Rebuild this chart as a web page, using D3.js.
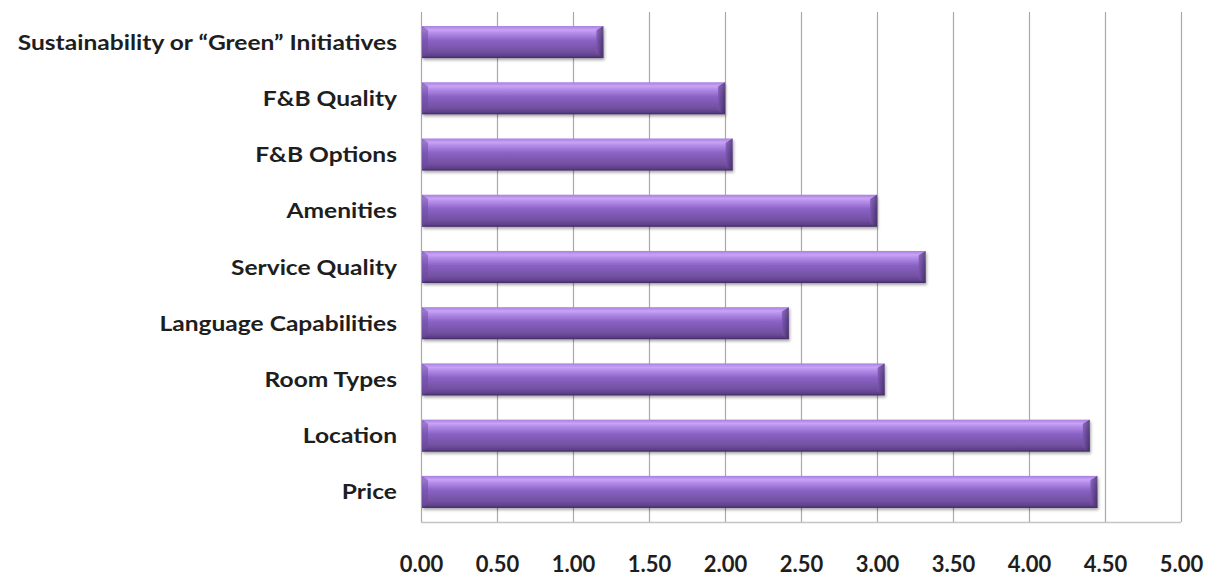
<!DOCTYPE html>
<html>
<head>
<meta charset="utf-8">
<script src="https://cdn.jsdelivr.net/npm/d3@7"></script>
<style>
  html, body { margin: 0; padding: 0; background: #ffffff; }
  svg { display: block; }
  .lbl { font-family: Lato, "Open Sans", sans-serif; font-weight: 700; fill: #1e1e1e; }
</style>
</head>
<body>
<svg id="chart" width="1208" height="578"></svg>
<script>
// Importance ratings by attribute (top to bottom as shown)
const categories = [
  "Sustainability or \u201CGreen\u201D Initiatives",
  "F&B Quality",
  "F&B Options",
  "Amenities",
  "Service Quality",
  "Language Capabilities",
  "Room Types",
  "Location",
  "Price"
];
const values = [1.20, 2.00, 2.05, 3.00, 3.32, 2.42, 3.05, 4.40, 4.45];
const tickValues = [0, 0.5, 1, 1.5, 2, 2.5, 3, 3.5, 4, 4.5, 5];

const svg = d3.select("#chart");
const margin = { top: 12, right: 27, bottom: 56, left: 421 };
const W = 1208, H = 578;
const innerW = W - margin.left - margin.right;
const innerH = H - margin.top - margin.bottom;

const x = d3.scaleLinear().domain([0, 5]).range([0, innerW]);
const y = d3.scaleBand().domain(categories).range([0, innerH]).paddingInner(0.43).paddingOuter(0.25);

// Gradients for the bevelled bars
const defs = svg.append("defs");
const g1 = defs.append("linearGradient").attr("id", "barFill")
  .attr("x1", 0).attr("y1", 0).attr("x2", 0).attr("y2", 1);
[
  [0, "#a77fe0"], [0.12, "#c9a3f6"], [0.22, "#b38be8"], [0.45, "#8a62c6"],
  [0.8, "#72509f"], [0.93, "#5e3f8a"], [1, "#3f2a5e"]
].forEach(([o, c]) => g1.append("stop").attr("offset", o).attr("stop-color", c));
const g2 = defs.append("linearGradient").attr("id", "capFill")
  .attr("x1", 0).attr("y1", 0).attr("x2", 1).attr("y2", 0);
[[0, "#7a56b0"], [1, "#3e2a5c"]].forEach(([o, c]) => g2.append("stop").attr("offset", o).attr("stop-color", c));
const blur = defs.append("filter").attr("id", "soft").attr("x", "-5%").attr("y", "-20%").attr("width", "110%").attr("height", "150%");
blur.append("feGaussianBlur").attr("in", "SourceAlpha").attr("stdDeviation", 1.5);
blur.append("feOffset").attr("dx", 1).attr("dy", 2).attr("result", "off");
blur.append("feComponentTransfer").append("feFuncA").attr("type", "linear").attr("slope", 0.35);
const mrg = blur.append("feMerge");
mrg.append("feMergeNode");
mrg.append("feMergeNode").attr("in", "SourceGraphic");

const plot = svg.append("g").attr("transform", `translate(${margin.left},${margin.top})`);

// Vertical gridlines
plot.append("g").selectAll("line").data(tickValues).join("line")
  .attr("x1", d => Math.round(x(d)) + 0.5).attr("x2", d => Math.round(x(d)) + 0.5)
  .attr("y1", 0).attr("y2", innerH)
  .attr("stroke", "#a9a9a9").attr("stroke-width", 1.2);

// Bottom axis line
plot.append("line")
  .attr("x1", 0).attr("x2", innerW).attr("y1", innerH + 0.5).attr("y2", innerH + 0.5)
  .attr("stroke", "#c4c4c4").attr("stroke-width", 1.5);

// Bars with a bevelled right end
const bars = plot.append("g").selectAll("g").data(categories).join("g")
  .attr("filter", "url(#soft)");
bars.append("rect")
  .attr("x", 1).attr("y", d => y(d))
  .attr("width", (d, i) => x(values[i]) - 1)
  .attr("height", y.bandwidth())
  .attr("fill", "url(#barFill)");
bars.append("path")
  .attr("d", (d, i) => {
    const xe = x(values[i]), y0 = y(d), h = y.bandwidth(), b = 7;
    return `M${xe - b},${y0 + b * 0.6} L${xe},${y0} L${xe},${y0 + h} L${xe - b},${y0 + h - b * 0.6} Z`;
  })
  .attr("fill", "url(#capFill)").attr("opacity", 0.75);
bars.append("path")
  .attr("d", (d, i) => {
    const y0 = y(d), h = y.bandwidth(), b = 6;
    return `M1,${y0} L${1 + b},${y0 + b * 0.7} L${1 + b},${y0 + h - b * 0.7} L1,${y0 + h} Z`;
  })
  .attr("fill", "#6b4a9e").attr("opacity", 0.5);

// Category labels (slightly widened lettering, anchored at the right edge)
const yAxis = d3.axisLeft(y).tickSize(0).tickPadding(0);
plot.append("g").call(yAxis)
  .call(g => g.select(".domain").remove())
  .selectAll("text").attr("class", "lbl").attr("font-size", 21).attr("dy", "0.36em")
  .attr("x", 0).attr("transform", "translate(-24,0) scale(1.17,1)");

// Value axis labels
const xAxis = d3.axisBottom(x).tickValues(tickValues).tickFormat(d3.format(".2f")).tickSize(0).tickPadding(34);
plot.append("g").attr("transform", `translate(0,${innerH})`).call(xAxis)
  .call(g => g.select(".domain").remove())
  .selectAll("text").attr("class", "lbl").attr("font-size", 22);

svg.selectAll(".tick text").attr("font-family", null);
</script>
</body>
</html>
